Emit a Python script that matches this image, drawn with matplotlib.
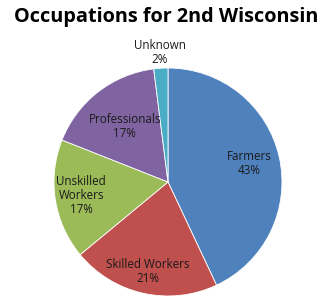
import numpy as np
import matplotlib
matplotlib.use("Agg")
import matplotlib.pyplot as plt

# =============================================================================
# Data
categories = ["Farmers", "Skilled Workers", "Unskilled\nWorkers", "Professionals", "Unknown"]
shares = [43, 21, 17, 17, 2]
colors = ["#4F81BD", "#C0504D", "#9BBB59", "#8064A2", "#4BACC6"]
label_dist = [0.73, 0.80, 0.77, 0.62, 1.14]

# =============================================================================
# Plot
W, H = 332, 308
fg = plt.figure(figsize=(W / 100, H / 100), dpi=100)
cx, cy, r = 168, 182, 114
ax = fg.add_axes([(cx - r) / W, (H - cy - r) / H, 2 * r / W, 2 * r / H])

wedges, _ = ax.pie(
    shares,
    colors=colors,
    startangle=90,
    counterclock=False,
    radius=1,
    wedgeprops={"edgecolor": "white", "linewidth": 0.6},
)

for w, cat, val, d in zip(wedges, categories, shares, label_dist):
    ang = np.deg2rad((w.theta1 + w.theta2) / 2)
    ax.text(
        d * np.cos(ang),
        d * np.sin(ang),
        f"{cat}\n{val}%",
        ha="center",
        va="center",
        multialignment="center",
        fontsize=8.4,
        family="Open Sans",
        color="#1a1a1a",
        linespacing=1.1,
        clip_on=False,
    )

ax.set_xlim(-1, 1)
ax.set_ylim(-1, 1)
ax.axis("off")

fg.text(0.5, 1 - 17 / H, "Occupations for 2nd Wisconsin", ha="center", va="center",
        fontsize=14.3, fontweight="bold", family="Open Sans")

fg.savefig("out.png", dpi=100)
